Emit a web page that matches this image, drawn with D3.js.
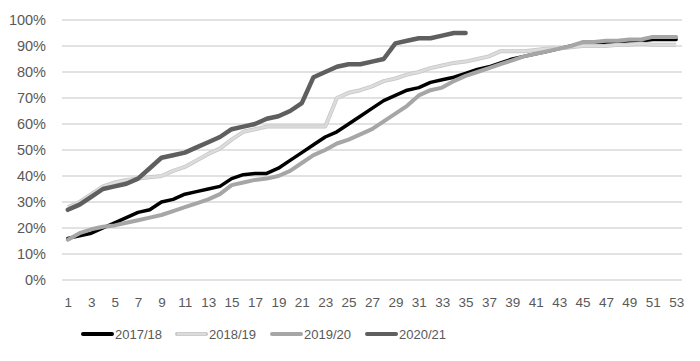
<!DOCTYPE html>
<html lang="en">
<head>
<meta charset="UTF-8">
<title>Cumulative share by week</title>
<script src="https://d3js.org/d3.v7.min.js"></script>
<style>
    body { margin: 0; padding: 0; background: #fff; }
    svg { display: block; font-family: "Liberation Sans", Arial, sans-serif; }
    .tick text { fill: #595959; }
</style>
</head>
<body>
<svg id="chart" width="700" height="361"></svg>
<script>
// weeks 1..53
const weeks = d3.range(1, 54);
const yTicks = [0, 10, 20, 30, 40, 50, 60, 70, 80, 90, 100];

const s1718 = [16, 17, 18, 20, 22, 24, 26, 27, 30, 31, 33, 34, 35, 36, 39, 40.5, 41, 41, 43, 46,
    49, 52, 55, 57, 60, 63, 66, 69, 71, 73, 74, 76, 77, 78, 79.5, 81, 82, 83.5, 85, 86,
    87, 88, 89, 90, 91, 91, 91.5, 91.5, 92, 92, 92.5, 92.5, 92.5];
const s1819 = [28, 30, 33, 36, 37.5, 38.5, 39, 39.5, 40, 42, 43.5, 46, 48.5, 50.5, 54, 57, 58, 59, 59, 59,
    59, 59, 59, 70, 72, 73, 74.5, 76.5, 77.5, 79, 80, 81.5, 82.5, 83.5, 84, 85, 86, 88, 88, 88,
    88.5, 89, 89, 89.5, 90, 90, 90, 90.5, 90.5, 91, 90.5, 90.5, 90.5];
const s1920 = [15.5, 18, 19.5, 20.5, 21, 22, 23, 24, 25, 26.5, 28, 29.5, 31, 33, 36.5, 37.5, 38.5, 39, 40, 42,
    45, 48, 50, 52.5, 54, 56, 58, 61, 64, 67, 71, 73, 74, 76.5, 78.5, 80, 81.5, 83, 84.5, 86,
    87, 88, 89, 90, 91.5, 91.5, 92, 92, 92.5, 92.5, 93.5, 93.5, 93.5];
const s2021 = [27, 29, 32, 35, 36, 37, 39, 43, 47, 48, 49, 51, 53, 55, 58, 59, 60, 62, 63, 65,
    68, 78, 80, 82, 83, 83, 84, 85, 91, 92, 93, 93, 94, 95, 95];

const seriesNames = ["2017/18", "2018/19", "2019/20", "2020/21"];
const seriesValues = [s1718, s1819, s1920, s2021];
const seriesColors = ["#000000", "#d4d4d4", "#a6a6a6", "#5f5f5f"];
const seriesWidths = [3.5, 3.5, 4, 4.5];

const svg = d3.select("#chart");
const plotLeft = 62, plotRight = 682, plotTop = 20, plotBottom = 280;

const x = d3.scalePoint().domain(weeks).range([plotLeft, plotRight]).padding(0.5);
const y = d3.scaleLinear().domain([0, 100]).range([plotBottom, plotTop]);

// gridlines
svg.append("g")
    .selectAll("line")
    .data(yTicks)
    .enter().append("line")
    .attr("x1", plotLeft).attr("x2", plotRight)
    .attr("y1", d => y(d)).attr("y2", d => y(d))
    .attr("stroke", "#d9d9d9")
    .attr("stroke-width", 1.5);

// y axis labels
const yAxis = svg.append("g")
    .attr("transform", `translate(${plotLeft - 16},0)`)
    .call(d3.axisLeft(y).tickValues(yTicks).tickFormat(d => d + "%").tickSize(0).tickPadding(0));
yAxis.select(".domain").remove();
yAxis.selectAll("text").attr("font-size", 14.5);

// x axis labels (odd weeks)
const xAxis = svg.append("g")
    .attr("transform", `translate(0,${plotBottom + 17})`)
    .call(d3.axisBottom(x).tickValues(weeks.filter(w => w % 2 === 1)).tickSize(0).tickPadding(0));
xAxis.select(".domain").remove();
xAxis.selectAll("text").attr("font-size", 13.5);

const line = d3.line()
    .x((d, i) => x(weeks[i]))
    .y(d => y(d));

seriesValues.forEach((vals, k) => {
    if (k === 1) {
        // 2018/19 is drawn as a light line with a soft darker edge
        svg.append("path").datum(vals).attr("d", line)
            .attr("fill", "none").attr("stroke", "#c6c6c6")
            .attr("stroke-width", 4).attr("stroke-linejoin", "round");
        svg.append("path").datum(vals).attr("d", line)
            .attr("fill", "none").attr("stroke", "#dcdcdc")
            .attr("stroke-width", 2.5).attr("stroke-linejoin", "round");
    } else {
        svg.append("path").datum(vals).attr("d", line)
            .attr("fill", "none").attr("stroke", seriesColors[k])
            .attr("stroke-width", seriesWidths[k])
            .attr("stroke-linejoin", "round").attr("stroke-linecap", "round");
    }
});

// legend
const legendX = [83, 177, 272, 367];
const legend = svg.append("g").attr("transform", "translate(0,334)");
seriesNames.forEach((name, k) => {
    const g = legend.append("g").attr("transform", `translate(${legendX[k]},0)`);
    if (k === 1) {
        g.append("line").attr("x1", 0).attr("x2", 29).attr("y1", 0).attr("y2", 0)
            .attr("stroke", "#c6c6c6").attr("stroke-width", 4).attr("stroke-linecap", "round");
        g.append("line").attr("x1", 0).attr("x2", 29).attr("y1", 0).attr("y2", 0)
            .attr("stroke", "#dcdcdc").attr("stroke-width", 2.5);
    } else {
        g.append("line").attr("x1", 0).attr("x2", 29).attr("y1", 0).attr("y2", 0)
            .attr("stroke", seriesColors[k]).attr("stroke-width", 4).attr("stroke-linecap", "round");
    }
    g.append("text").attr("x", 32).attr("y", 0).attr("dy", "0.35em")
        .attr("font-size", 13).attr("fill", "#595959").text(name);
});
</script>
</body>
</html>
